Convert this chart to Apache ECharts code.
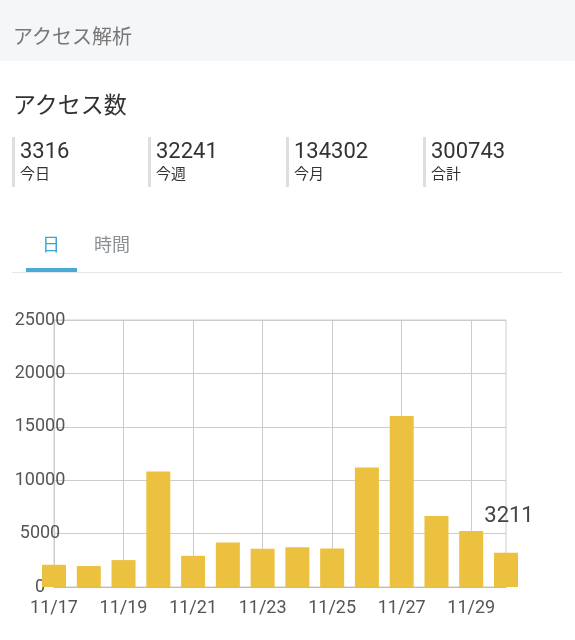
<!DOCTYPE html>
<html>
<head>
<meta charset="utf-8">
<script src="https://cdn.jsdelivr.net/npm/echarts@6/dist/echarts.min.js"></script>
<style>
html,body{margin:0;padding:0;width:575px;height:640px;background:#fff;overflow:hidden;font-family:Roboto,"Noto Sans CJK JP",sans-serif;}
#band{position:absolute;left:0;top:0;width:575px;height:61px;background:#f5f6f8;}
#band span{position:absolute;left:13px;top:24px;font-size:20px;line-height:26px;color:#777;}
#title{position:absolute;left:13px;top:91px;font-size:23px;line-height:29px;color:#333;}
.stat{position:absolute;top:137px;height:50px;border-left:3px solid #dedede;padding-left:5px;}
.stat .n{position:absolute;left:5px;top:0px;font-size:22px;line-height:27px;color:#333;white-space:nowrap;}
.stat .l{position:absolute;left:5px;top:28px;font-size:15px;line-height:18px;color:#333;white-space:nowrap;}
#tab1{position:absolute;left:42px;top:233px;font-size:18px;line-height:24px;color:#3fa3d2;}
#tab2{position:absolute;left:94px;top:233px;font-size:18px;line-height:24px;color:#8b9097;}
#uline{position:absolute;left:26px;top:268px;width:51px;height:4px;background:#4aaad6;}
#hline{position:absolute;left:12px;top:272px;width:550px;height:1px;background:#e3e7ea;}
#chart{position:absolute;left:0;top:0;width:575px;height:640px;}
</style>
</head>
<body>
<div id="chart"></div>
<div id="band"><span>アクセス解析</span></div>
<div id="title">アクセス数</div>
<div id="stats"></div>
<div id="tab1">日</div>
<div id="tab2">時間</div>
<div id="uline"></div>
<div id="hline"></div>
<script>
// Summary stats
const statValues = [3316, 32241, 134302, 300743];
const statLabels = ['今日', '今週', '今月', '合計'];
const statLefts = [12, 148, 286, 423];

// Daily access chart
const dates = ['11/17','11/18','11/19','11/20','11/21','11/22','11/23','11/24','11/25','11/26','11/27','11/28','11/29','11/30'];
const visits = [2080, 1960, 2520, 10820, 2920, 4160, 3570, 3730, 3600, 11190, 16010, 6650, 5250, 3211];
const yTicks = [0, 5000, 10000, 15000, 20000, 25000];

const statsEl = document.getElementById('stats');
statValues.forEach(function (v, i) {
  const d = document.createElement('div');
  d.className = 'stat';
  d.style.left = statLefts[i] + 'px';
  d.innerHTML = '<div class="n">' + v + '</div><div class="l">' + statLabels[i] + '</div>';
  statsEl.appendChild(d);
});

const chart = echarts.init(document.getElementById('chart'), null, {renderer: 'canvas'});
const lastIdx = visits.length - 1;
chart.setOption({
  animation: false,
  textStyle: {fontFamily: 'Roboto, "Noto Sans CJK JP", sans-serif'},
  grid: {left: 54, right: 69, top: 320, bottom: 53, show: true, borderColor: '#cccccc', borderWidth: 1, backgroundColor: 'transparent'},
  xAxis: {
    type: 'category',
    data: dates,
    boundaryGap: false,
    axisLine: {show: true, lineStyle: {color: '#bbbbbb', width: 1}},
    axisTick: {show: false},
    axisLabel: {interval: 1, color: '#555', fontSize: 18, margin: 13},
    splitLine: {show: true, interval: 1, lineStyle: {color: '#cccccc', width: 1}}
  },
  yAxis: {
    type: 'value',
    min: yTicks[0],
    max: yTicks[yTicks.length - 1],
    interval: yTicks[1] - yTicks[0],
    axisLine: {show: true, lineStyle: {color: '#cccccc'}},
    axisTick: {show: false},
    axisLabel: {align: 'center', margin: 14, color: '#555', fontSize: 18, formatter: function (v) { return String(v); }},
    splitLine: {show: true, lineStyle: {color: '#cccccc', width: 1}}
  },
  series: [{
    type: 'bar',
    barWidth: 24,
    itemStyle: {color: '#ecc140'},
    data: visits.map(function (v, i) {
      if (i === lastIdx) {
        return {value: v, label: {show: true, position: 'top', distance: 25, offset: [3, 0], fontSize: 22, color: '#444'}};
      }
      return v;
    })
  }]
});
</script>
</body>
</html>
